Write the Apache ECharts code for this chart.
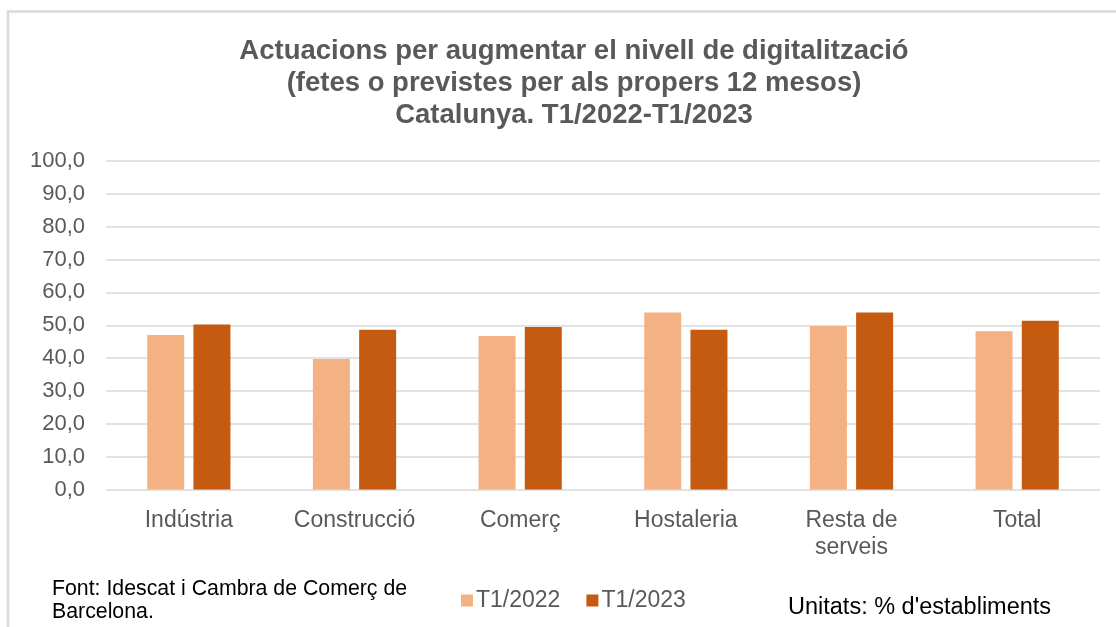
<!DOCTYPE html>
<html>
<head>
<meta charset="utf-8">
<script src="https://cdn.jsdelivr.net/npm/echarts@6/dist/echarts.min.js"></script>
<style>
html,body{margin:0;padding:0;background:#fff;}
#main{width:1116px;height:627px;}
</style>
</head>
<body>
<div id="main"></div>
<script>
var categories = ['Indústria', 'Construcció', 'Comerç', 'Hostaleria', 'Resta de\nserveis', 'Total'];
var t2022 = [47.0, 39.7, 46.7, 53.9, 49.8, 48.2];
var t2023 = [50.2, 48.6, 49.5, 48.6, 53.9, 51.4];
var seriesNames = ['T1/2022', 'T1/2023'];

var myChart = echarts.init(document.getElementById('main'));
var font = 'Liberation Sans, Arial, sans-serif';
var option = {
  animation: false,
  title: {
    text: 'Actuacions per augmentar el nivell de digitalització\n(fetes o previstes per als propers 12 mesos)\nCatalunya. T1/2022-T1/2023',
    left: 569,
    top: 30,
    textAlign: 'center',
    textStyle: {
      fontFamily: font,
      fontSize: 27.5,
      fontWeight: 'bold',
      color: '#595959',
      lineHeight: 32
    }
  },
  legend: {
    data: seriesNames,
    left: 456,
    top: 584,
    itemWidth: 12,
    itemHeight: 12,
    itemGap: 26,
    icon: 'rect',
    textStyle: { fontFamily: font, fontSize: 23, color: '#595959', padding: [0, 0, 0, -2] }
  },
  grid: {
    left: 106,
    right: 16,
    top: 161,
    bottom: 137.5
  },
  xAxis: {
    type: 'category',
    data: categories,
    axisLine: { show: false },
    axisTick: { show: false },
    axisLabel: {
      fontFamily: font,
      fontSize: 23,
      color: '#595959',
      margin: 18,
      lineHeight: 27
    }
  },
  yAxis: {
    type: 'value',
    min: 0,
    max: 100,
    interval: 10,
    axisLine: { show: false },
    axisTick: { show: false },
    splitLine: { lineStyle: { color: '#d9d9d9', width: 1.5 } },
    axisLabel: {
      fontFamily: font,
      fontSize: 22,
      color: '#595959',
      margin: 21,
      formatter: function (v) { return v.toFixed(1).replace('.', ','); }
    }
  },
  series: [
    {
      name: seriesNames[0],
      type: 'bar',
      data: t2022,
      barWidth: 37,
      barGap: '25%',
      itemStyle: { color: '#f4b183' }
    },
    {
      name: seriesNames[1],
      type: 'bar',
      data: t2023,
      barWidth: 37,
      barGap: '25%',
      itemStyle: { color: '#c55a11' }
    }
  ],
  graphic: [
    {
      type: 'rect',
      shape: { x: 8, y: 11.5, width: 1130, height: 640 },
      style: { fill: 'none', stroke: '#d9d9d9', lineWidth: 2.5 },
      silent: true
    },
    {
      type: 'text',
      left: 52,
      top: 578,
      style: {
        text: 'Font: Idescat i Cambra de Comerç de\nBarcelona.',
        font: '21.3px Liberation Sans, Arial, sans-serif',
        fill: '#000',
        lineHeight: 23
      }
    },
    {
      type: 'text',
      left: 788,
      top: 596,
      style: {
        text: "Unitats: % d'establiments",
        font: '23.5px Liberation Sans, Arial, sans-serif',
        fill: '#000'
      }
    }
  ]
};
myChart.setOption(option);
</script>
</body>
</html>
